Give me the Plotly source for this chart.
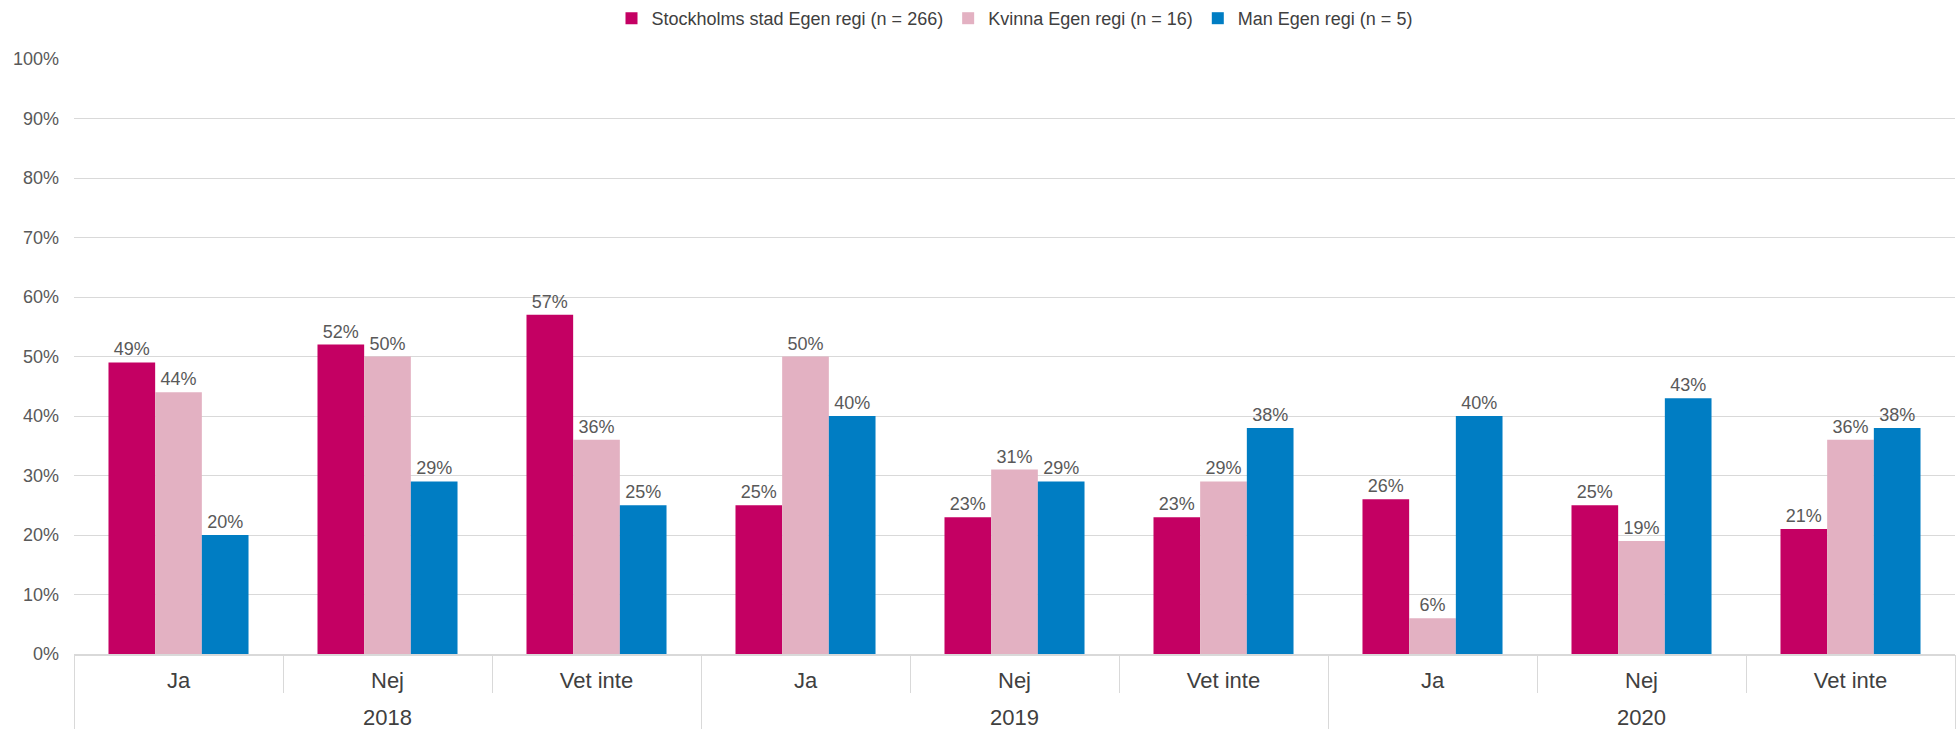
import plotly.graph_objects as go

# Survey answers per year, split by respondent group
year_labels = ["2018", "2019", "2020"]
answer_labels = ["Ja", "Nej", "Vet inte"]
years = [y for y in year_labels for _ in answer_labels]
answers = answer_labels * len(year_labels)

stockholm = [49, 52, 57, 25, 23, 23, 26, 25, 21]
kvinna = [44, 50, 36, 50, 31, 29, 6, 19, 36]
man = [20, 29, 25, 40, 29, 38, 40, 43, 38]

series_names = [
    "Stockholms stad Egen regi (n = 266)",
    "Kvinna Egen regi (n = 16)",
    "Man Egen regi (n = 5)",
]
series_values = [stockholm, kvinna, man]
series_colors = ["#C40063", "#E3B1C2", "#007DC3"]

text_grey = "#595959"
label_dark = "#404040"
grid_grey = "#D9D9D9"
font_family = "Liberation Sans, Arial, sans-serif"

# one unique category key per (year, answer) pair
keys = [f"{y} {a}" for y, a in zip(years, answers)]

fig = go.Figure()
for name, vals, color in zip(series_names, series_values, series_colors):
    fig.add_trace(
        go.Bar(
            name=name,
            x=keys,
            y=[v / 100 for v in vals],
            marker=dict(color=color, line=dict(width=0)),
            text=[f"{v}%" for v in vals],
            textposition="outside",
            textfont=dict(size=18, color=text_grey, family=font_family),
            cliponaxis=False,
        )
    )

# empty trace that carries the year axis
fig.add_trace(
    go.Scatter(
        x=year_labels,
        y=[None] * len(year_labels),
        xaxis="x2",
        mode="markers",
        showlegend=False,
        hoverinfo="skip",
    )
)

fig.update_layout(
    width=1960,
    height=729,
    barmode="group",
    bargap=0.33,
    bargroupgap=0,
    plot_bgcolor="white",
    paper_bgcolor="white",
    margin=dict(l=74, r=5, t=59, b=75, autoexpand=False),
    font=dict(family=font_family, color=text_grey),
    legend=dict(
        orientation="h",
        x=0.5,
        xanchor="center",
        y=1.0,
        yref="container",
        yanchor="top",
        font=dict(size=18, color=label_dark),
        itemwidth=30,
        traceorder="normal",
    ),
    xaxis=dict(
        type="category",
        categoryarray=keys,
        range=[-0.5, len(keys) - 0.5],
        tickvals=keys,
        ticktext=answers,
        showline=True,
        linecolor=grid_grey,
        linewidth=2,
        ticks="outside",
        tickson="boundaries",
        ticklen=37,
        tickcolor=grid_grey,
        tickwidth=1,
        tickfont=dict(size=22, color=label_dark),
        ticklabelstandoff=6,
        showgrid=False,
        zeroline=False,
        automargin=False,
    ),
    xaxis2=dict(
        type="category",
        categoryarray=year_labels,
        range=[-0.5, len(year_labels) - 0.5],
        overlaying="x",
        anchor="y",
        side="bottom",
        showline=False,
        ticks="outside",
        tickson="boundaries",
        ticklen=75,
        tickcolor=grid_grey,
        tickwidth=1,
        tickfont=dict(size=22, color=label_dark),
        ticklabelstandoff=48,
        showgrid=False,
        zeroline=False,
        automargin=False,
    ),
    yaxis=dict(
        range=[0, 1],
        tickformat=".0%",
        dtick=0.1,
        showgrid=True,
        gridcolor=grid_grey,
        gridwidth=1,
        zeroline=False,
        showline=False,
        tickfont=dict(size=18, color=text_grey),
        ticks="",
        ticklabelstandoff=14,
        automargin=False,
    ),
)

fig.write_html("out.html")
